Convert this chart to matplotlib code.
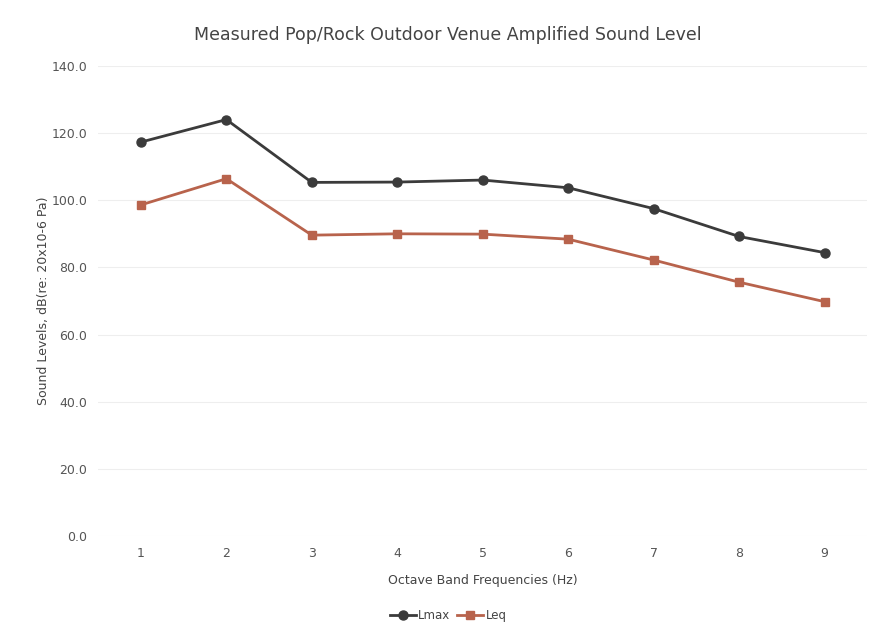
import matplotlib.pyplot as plt

# values
bands = [1, 2, 3, 4, 5, 6, 7, 8, 9]
lmax = [117.3, 124.0, 105.3, 105.4, 106.0, 103.7, 97.5, 89.2, 84.4]
leq = [98.6, 106.4, 89.6, 90.0, 89.9, 88.4, 82.2, 75.6, 69.8]
y_ticks = [0, 20, 40, 60, 80, 100, 120, 140]

plt.rcParams['font.family'] = ['DejaVu Sans']

fig = plt.figure(figsize=(8.69, 6.33), dpi=100)
ax = fig.add_axes([0.113, 0.153, 0.885, 0.743])

ax.plot(bands, lmax, color='#3b3b3b', lw=2.0, marker='o', ms=6.5, label='Lmax')
ax.plot(bands, leq, color='#b8634c', lw=2.0, marker='s', ms=6, label='Leq')

ax.set_xlim(0.5, 9.5)
ax.set_ylim(0, 140)
ax.set_xticks(bands)
ax.set_yticks(y_ticks)
ax.set_yticklabels([f'{v:.1f}' for v in y_ticks])
ax.tick_params(length=0, labelsize=9, colors='#555555', pad=8)
ax.yaxis.grid(True, color='#eeeeee', lw=0.8)
ax.set_axisbelow(True)
for s in ax.spines.values():
    s.set_visible(False)

ax.set_xlabel('Octave Band Frequencies (Hz)', fontsize=9, color='#444444', labelpad=10)
ax.set_ylabel('Sound Levels, dB(re: 20x10-6 Pa)', fontsize=9, color='#444444', labelpad=1)
fig.text(0.515, 0.945, 'Measured Pop/Rock Outdoor Venue Amplified Sound Level',
         ha='center', va='center', fontsize=12.5, color='#444444')

ax.legend(loc='center', bbox_to_anchor=(0.455, -0.168), ncol=2, frameon=False,
          fontsize=8.5, handlelength=2.2, columnspacing=0.6, handletextpad=0.2,
          labelcolor='#444444')

fig.savefig('out.png', dpi=100)
